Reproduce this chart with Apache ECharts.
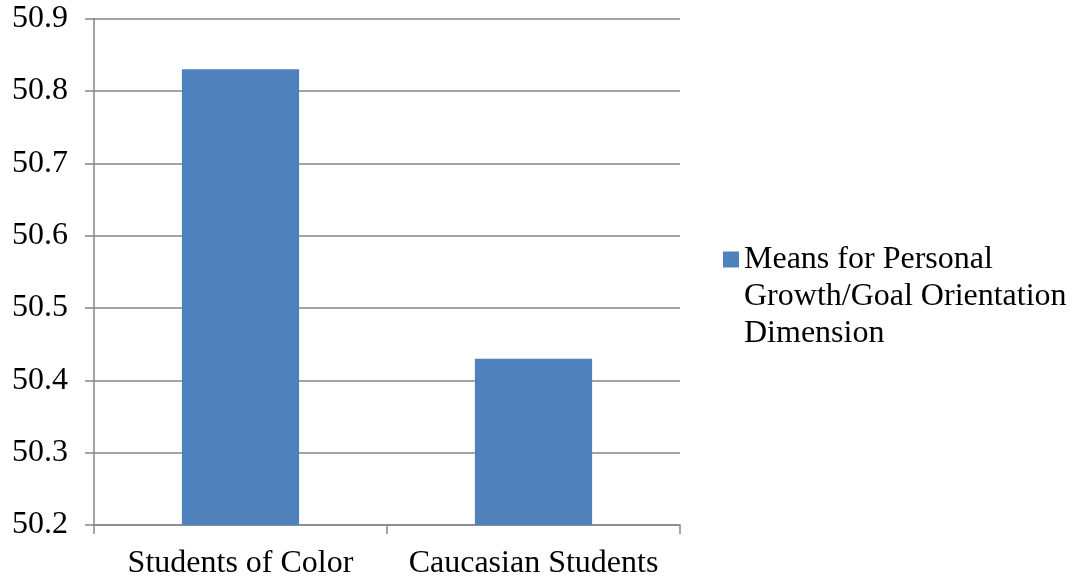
<!DOCTYPE html>
<html>
<head>
<meta charset="utf-8">
<script src="https://cdn.jsdelivr.net/npm/echarts@6/dist/echarts.min.js"></script>
<style>
html,body{margin:0;padding:0;background:#fff;}
#main{width:1075px;height:580px;}
</style>
</head>
<body>
<div id="main"></div>
<script>
const categories = ['Students of Color', 'Caucasian Students'];
const seriesName = 'Means for Personal\nGrowth/Goal Orientation\nDimension';
const values = [50.83, 50.43];
const yMin = 50.2, yMax = 50.9, yInterval = 0.1;

const FONT = '"Liberation Serif", "Times New Roman", serif';
const chart = echarts.init(document.getElementById('main'), null, {renderer: 'canvas'});
chart.setOption({
  backgroundColor: '#ffffff',
  animation: false,
  textStyle: {fontFamily: FONT},
  grid: {left: 94, right: 395, top: 18.7, bottom: 54, containLabel: false},
  legend: {
    show: true,
    left: 723,
    top: 167,
    padding: 0,
    orient: 'vertical',
    icon: 'rect',
    itemWidth: 16,
    itemHeight: 16,
    data: [seriesName],
    formatter: name => '\n\n' + name,
    textStyle: {fontFamily: FONT, fontSize: 32, color: '#000', lineHeight: 37}
  },
  xAxis: {
    type: 'category',
    data: categories,
    boundaryGap: true,
    axisLine: {show: true, lineStyle: {color: '#868686', width: 1.5}},
    axisTick: {show: true, interval: 0, length: 9, lineStyle: {color: '#868686', width: 1.5}},
    axisLabel: {fontFamily: FONT, fontSize: 32, color: '#000', margin: 23, interval: 0, hideOverlap: false},
    splitLine: {show: false}
  },
  yAxis: {
    type: 'value',
    min: yMin,
    max: yMax,
    interval: yInterval,
    axisLine: {show: true, lineStyle: {color: '#868686', width: 1.5}},
    axisTick: {show: true, length: 9, lineStyle: {color: '#868686', width: 1.5}},
    axisLabel: {fontFamily: FONT, fontSize: 32, color: '#000', margin: 26,
      formatter: v => v.toFixed(1)},
    splitLine: {show: true, lineStyle: {color: '#868686', width: 1.5}}
  },
  series: [{
    name: seriesName,
    type: 'bar',
    data: values,
    barWidth: '40%',
    itemStyle: {color: '#4f81bd'}
  }]
});
</script>
</body>
</html>
